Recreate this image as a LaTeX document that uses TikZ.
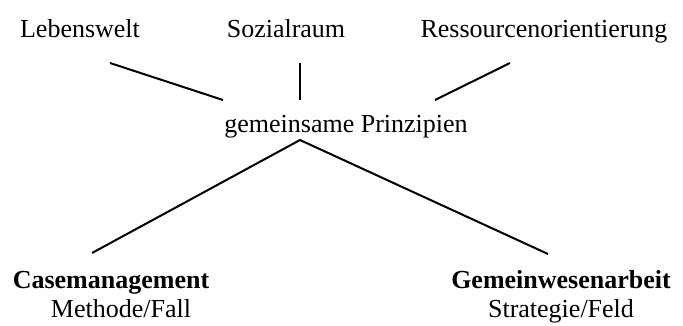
\documentclass[tikz,border=0pt]{standalone}
\usepackage{fontspec}
\setmainfont{Liberation Serif}
\begin{document}
\begin{tikzpicture}[x=1pt,y=-1pt,
  lbl/.style={inner sep=0pt,anchor=base,font=\fontsize{26}{30}\selectfont},
  blbl/.style={lbl,font=\fontsize{26}{30}\selectfont\bfseries},
  conn/.style={line width=2pt}]
\useasboundingbox (0,0) rectangle (683,325);
\node[lbl] (leb) at (80,37) {Lebenswelt};
\node[lbl] (soz) at (286,37) {Sozialraum};
\node[lbl] (res) at (544,37) {Ressourcenorientierung};
\node[lbl] (gem) at (346,132) {gemeinsame Prinzipien};
\node[blbl] (case) at (111,288) {Casemanagement};
\node[lbl] (meth) at (121,317) {Methode/Fall};
\node[blbl] (gwa) at (561,288) {Gemeinwesenarbeit};
\node[lbl] (strat) at (561,317) {Strategie/Feld};
\coordinate (l1a) at (110,63); \coordinate (l1b) at (223,100);
\coordinate (l2a) at (300,63); \coordinate (l2b) at (300,100);
\coordinate (l3a) at (510,63); \coordinate (l3b) at (435,100);
\coordinate (apex) at (300,140);
\coordinate (cl) at (92,253); \coordinate (cr) at (548,254);
\draw[conn] (l1a) -- (l1b);
\draw[conn] (l2a) -- (l2b);
\draw[conn] (l3a) -- (l3b);
\draw[conn] (cl) -- (apex) -- (cr);
\end{tikzpicture}
\end{document}
